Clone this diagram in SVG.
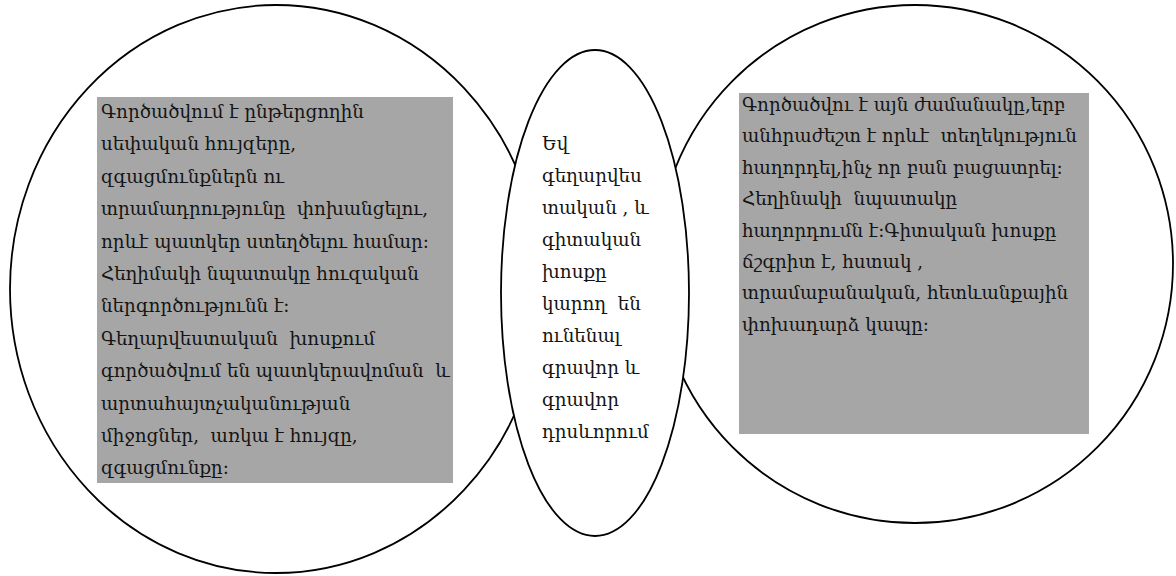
<svg xmlns="http://www.w3.org/2000/svg" width="1176" height="576" viewBox="0 0 1176 576">
<style>
.shape{fill:none;stroke:#000;stroke-width:1.8}
.front{fill:#fff;stroke:#000;stroke-width:1.8}
.box{fill:#a6a6a6}
.t{font-family:"DejaVu Serif","Noto Serif","Liberation Serif",serif;font-size:18.3px;fill:#141414;white-space:pre}
</style>
<rect width="1176" height="576" fill="#fff"/>
<g id="node-left">
<ellipse class="shape" cx="276" cy="289" rx="266" ry="284"/>
<rect class="box" x="97" y="97" width="356" height="386"/>
<text class="t" xml:space="preserve">
<tspan x="101" y="118">Գործածվում է ընթերցողին</tspan>
<tspan x="101" y="150.4">սեփական հույզերը,</tspan>
<tspan x="101" y="182.8">զգացմունքներն ու</tspan>
<tspan x="101" y="215.2">տրամադրությունը  փոխանցելու,</tspan>
<tspan x="101" y="247.6">որևէ պատկեր ստեղծելու համար:</tspan>
<tspan x="101" y="280">Հեղիմակի նպատակը հուզական</tspan>
<tspan x="101" y="312.4">ներգործությունն է:</tspan>
<tspan x="101" y="344.8">Գեղարվեստական  խոսքում</tspan>
<tspan x="101" y="377.2">գործածվում են պատկերավոման  և</tspan>
<tspan x="101" y="409.6">արտահայտչականության</tspan>
<tspan x="101" y="442">միջոցներ,  առկա է հույզը,</tspan>
<tspan x="101" y="474.4">զգացմունքը:</tspan>
</text>
</g>
<g id="node-right">
<ellipse class="shape" cx="915" cy="264" rx="258" ry="259"/>
<rect class="box" x="739" y="93" width="350" height="341"/>
<text class="t" xml:space="preserve">
<tspan x="742" y="111">Գործածվու է այն ժամանակը,երբ</tspan>
<tspan x="742" y="142.4">անհրաժեշտ է որևէ  տեղեկություն</tspan>
<tspan x="742" y="173.8">հաղորդել,ինչ որ բան բացատրել:</tspan>
<tspan x="742" y="205.2">Հեղինակի  նպատակը</tspan>
<tspan x="742" y="236.6">հաղորդումն է:Գիտական խոսքը</tspan>
<tspan x="742" y="268">ճշգրիտ է, հստակ ,</tspan>
<tspan x="742" y="299.4">տրամաբանական, հետևանքային</tspan>
<tspan x="742" y="330.8">փոխադարձ կապը:</tspan>
</text>
</g>
<g id="node-middle">
<ellipse class="front" cx="595" cy="293" rx="94" ry="243"/>
<text class="t" xml:space="preserve">
<tspan x="542" y="150">Եվ</tspan>
<tspan x="542" y="182">գեղարվես</tspan>
<tspan x="542" y="214">տական , և</tspan>
<tspan x="542" y="246">գիտական</tspan>
<tspan x="542" y="278">խոսքը</tspan>
<tspan x="542" y="310">կարող  են</tspan>
<tspan x="542" y="342">ունենալ</tspan>
<tspan x="542" y="374">գրավոր և</tspan>
<tspan x="542" y="406">գրավոր</tspan>
<tspan x="542" y="438">դրսևորում</tspan>
</text>
</g>
<g id="connectors"></g>
</svg>
